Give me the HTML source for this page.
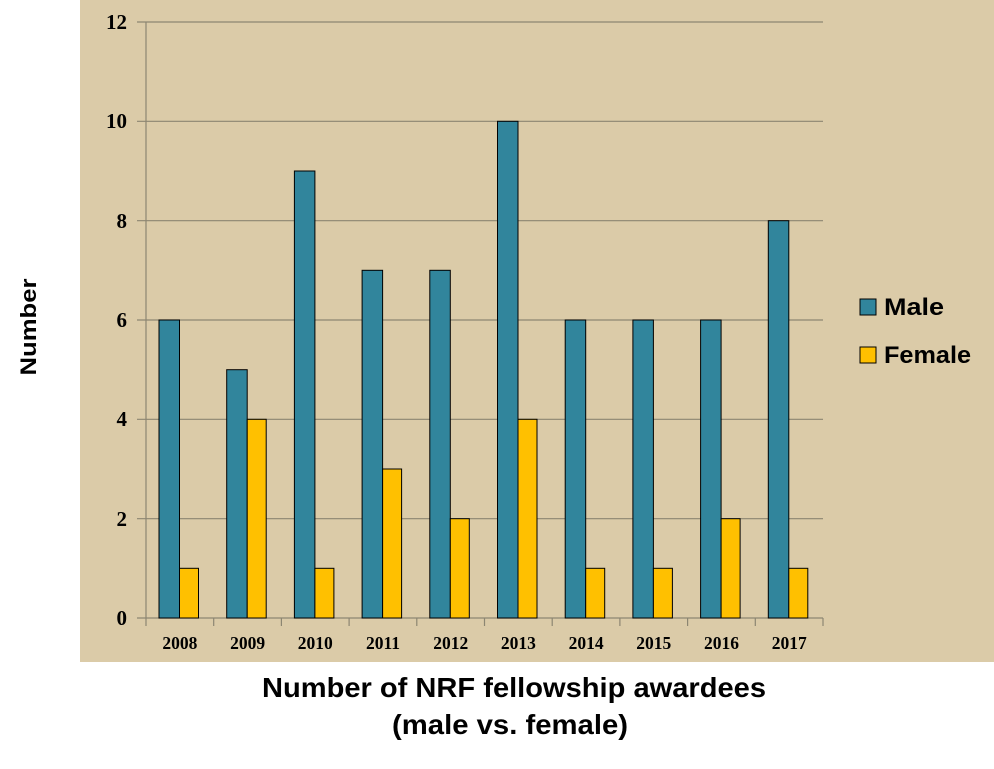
<!DOCTYPE html>
<html><head><meta charset="utf-8"><style>
html,body{margin:0;padding:0;background:#fff;}
</style></head><body>
<svg width="994" height="764" xmlns="http://www.w3.org/2000/svg">
<rect x="80" y="0" width="914" height="662" fill="#dbcba8"/>
<g stroke="#8c8672" stroke-width="1.2">
<line x1="137" y1="22" x2="823" y2="22"/>
<line x1="137" y1="121.3" x2="823" y2="121.3"/>
<line x1="137" y1="220.7" x2="823" y2="220.7"/>
<line x1="137" y1="320" x2="823" y2="320"/>
<line x1="137" y1="419.3" x2="823" y2="419.3"/>
<line x1="137" y1="518.7" x2="823" y2="518.7"/>
<line x1="137" y1="618" x2="823" y2="618"/>
<line x1="146" y1="22" x2="146" y2="626"/>
<line x1="213.7" y1="618" x2="213.7" y2="626"/>
<line x1="281.4" y1="618" x2="281.4" y2="626"/>
<line x1="349.1" y1="618" x2="349.1" y2="626"/>
<line x1="416.8" y1="618" x2="416.8" y2="626"/>
<line x1="484.5" y1="618" x2="484.5" y2="626"/>
<line x1="552.2" y1="618" x2="552.2" y2="626"/>
<line x1="619.9" y1="618" x2="619.9" y2="626"/>
<line x1="687.6" y1="618" x2="687.6" y2="626"/>
<line x1="755.3" y1="618" x2="755.3" y2="626"/>
<line x1="823" y1="618" x2="823" y2="626"/>
</g>
<g stroke="#000" stroke-width="1">
<g fill="#31859c">
<rect x="159" y="320" width="20.5" height="298"/>
<rect x="226.7" y="369.7" width="20.5" height="248.3"/>
<rect x="294.4" y="171" width="20.5" height="447"/>
<rect x="362.1" y="270.3" width="20.5" height="347.7"/>
<rect x="429.8" y="270.3" width="20.5" height="347.7"/>
<rect x="497.5" y="121.3" width="20.5" height="496.7"/>
<rect x="565.2" y="320" width="20.5" height="298"/>
<rect x="632.9" y="320" width="20.5" height="298"/>
<rect x="700.6" y="320" width="20.5" height="298"/>
<rect x="768.3" y="220.7" width="20.5" height="397.3"/>
</g>
<g fill="#ffc000">
<rect x="179.5" y="568.3" width="19" height="49.7"/>
<rect x="247.2" y="419.3" width="19" height="198.7"/>
<rect x="314.9" y="568.3" width="19" height="49.7"/>
<rect x="382.6" y="469" width="19" height="149"/>
<rect x="450.3" y="518.7" width="19" height="99.3"/>
<rect x="518" y="419.3" width="19" height="198.7"/>
<rect x="585.7" y="568.3" width="19" height="49.7"/>
<rect x="653.4" y="568.3" width="19" height="49.7"/>
<rect x="721.1" y="518.7" width="19" height="99.3"/>
<rect x="788.8" y="568.3" width="19" height="49.7"/>
</g>
<rect x="860" y="299" width="16" height="16" fill="#31859c"/>
<rect x="860" y="347" width="16" height="16" fill="#ffc000"/>
</g>
<g font-family="Liberation Serif, serif" font-weight="bold" font-size="21" text-anchor="end" fill="#000">
<text x="127" y="29">12</text>
<text x="127" y="128">10</text>
<text x="127" y="228">8</text>
<text x="127" y="327">6</text>
<text x="127" y="426">4</text>
<text x="127" y="526">2</text>
<text x="127" y="625">0</text>
</g>
<g font-family="Liberation Serif, serif" font-weight="bold" font-size="17.5" text-anchor="middle" fill="#000">
<text x="179.9" y="649">2008</text>
<text x="247.6" y="649">2009</text>
<text x="315.3" y="649">2010</text>
<text x="383" y="649">2011</text>
<text x="450.7" y="649">2012</text>
<text x="518.4" y="649">2013</text>
<text x="586.1" y="649">2014</text>
<text x="653.8" y="649">2015</text>
<text x="721.5" y="649">2016</text>
<text x="789.2" y="649">2017</text>
</g>
<g font-family="Liberation Sans, sans-serif" font-weight="bold" fill="#000">
<text x="884" y="315" font-size="24" textLength="60" lengthAdjust="spacingAndGlyphs">Male</text>
<text x="884" y="363" font-size="24" textLength="87" lengthAdjust="spacingAndGlyphs">Female</text>
<text x="262" y="697" font-size="28" textLength="504" lengthAdjust="spacingAndGlyphs">Number of NRF fellowship awardees</text>
<text x="392" y="734" font-size="28" textLength="236" lengthAdjust="spacingAndGlyphs">(male vs. female)</text>
<text x="0" y="0" font-size="22" text-anchor="middle" textLength="97" lengthAdjust="spacingAndGlyphs" transform="translate(36,327) rotate(-90)">Number</text>
</g>
</svg>
</body></html>
